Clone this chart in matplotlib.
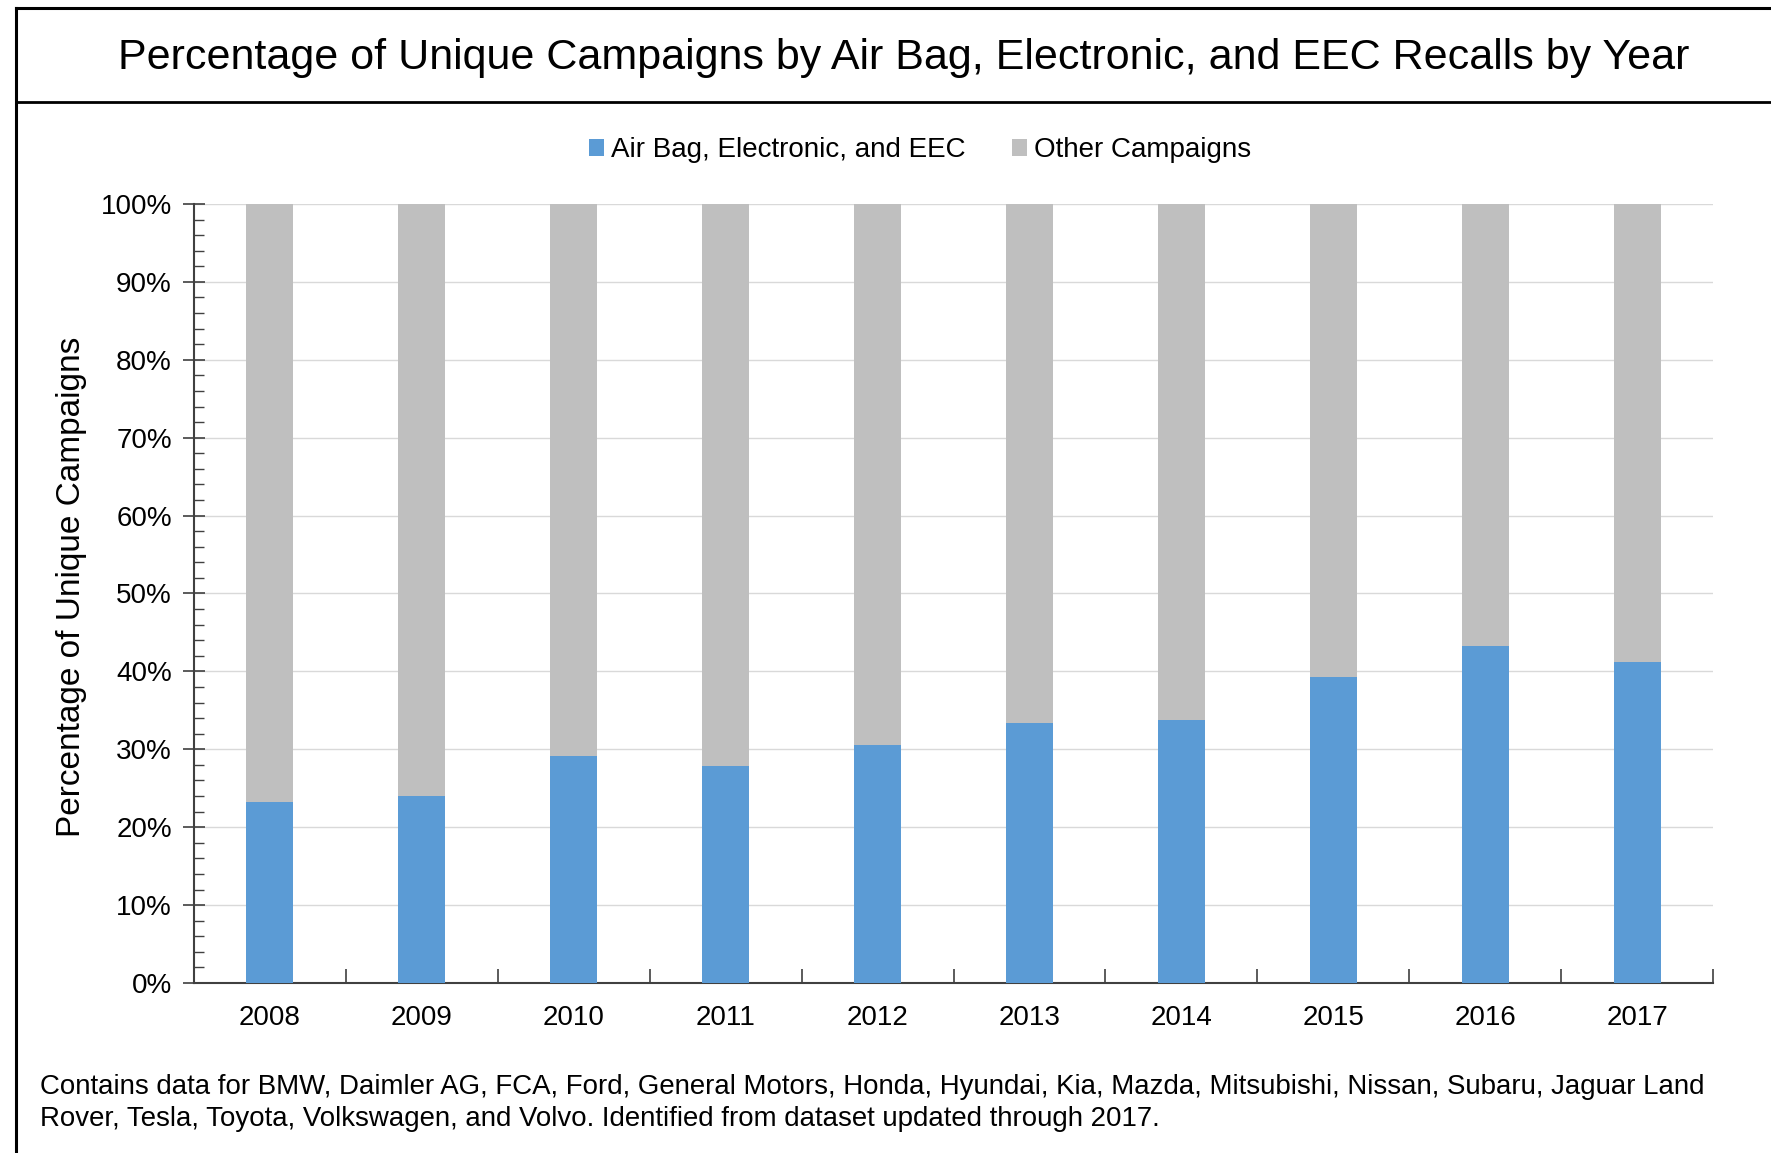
import matplotlib
matplotlib.use("Agg")
import matplotlib.pyplot as plt
from matplotlib.patches import Patch
from matplotlib.lines import Line2D
from matplotlib.ticker import MultipleLocator, PercentFormatter

years = ["2008", "2009", "2010", "2011", "2012", "2013", "2014", "2015", "2016", "2017"]
airbag_share = [0.232, 0.240, 0.291, 0.278, 0.306, 0.334, 0.338, 0.393, 0.432, 0.412]
other_share = [1 - v for v in airbag_share]

series_labels = ["Air Bag, Electronic, and EEC", "Other Campaigns"]
title_text = "Percentage of Unique Campaigns by Air Bag, Electronic, and EEC Recalls by Year"
ylabel_text = "Percentage of Unique Campaigns"
footnote_lines = [
    "Contains data for BMW, Daimler AG, FCA, Ford, General Motors, Honda, Hyundai, Kia, Mazda, Mitsubishi, Nissan, Subaru, Jaguar Land",
    "Rover, Tesla, Toyota, Volkswagen, and Volvo. Identified from dataset updated through 2017.",
]

BLUE = "#5b9bd5"
GREY = "#bfbfbf"

plt.rcParams["font.family"] = ["Liberation Sans", "DejaVu Sans"]

W, H = 1771, 1153
fig = plt.figure(figsize=(W / 100, H / 100), dpi=100)
fig.patch.set_facecolor("white")

ax = fig.add_axes([194 / W, 1 - 983 / H, (1713 - 194) / W, (983 - 204) / H])

x = list(range(len(years)))
ax.bar(x, airbag_share, width=0.31, color=BLUE, zorder=3)
ax.bar(x, other_share, width=0.31, bottom=airbag_share, color=GREY, zorder=3)

ax.set_xlim(-0.5, len(years) - 0.5)
ax.set_ylim(0, 1)

ax.yaxis.set_major_locator(MultipleLocator(0.1))
ax.yaxis.set_minor_locator(MultipleLocator(0.02))
ax.yaxis.set_major_formatter(PercentFormatter(1.0, decimals=0))
ax.grid(axis="y", which="major", color="#d9d9d9", linewidth=1.0, zorder=0)

ax.set_xticks(x)
ax.set_xticklabels(years)
ax.set_xticks([i + 0.5 for i in x], minor=True)

ax.tick_params(axis="y", which="major", direction="inout", length=16, width=1.2,
               color="#404040", labelsize=20, pad=8)
ax.tick_params(axis="y", which="minor", direction="in", length=7, width=1.0, color="#404040")
ax.tick_params(axis="x", which="major", length=0, labelsize=20, pad=16)
ax.tick_params(axis="x", which="minor", direction="in", length=10, width=1.2, color="#404040")

for side in ("top", "right"):
    ax.spines[side].set_visible(False)
for side in ("left", "bottom"):
    ax.spines[side].set_color("#404040")
    ax.spines[side].set_linewidth(1.5)

ax.set_ylabel(ylabel_text, fontsize=24, labelpad=10)
ax.yaxis.label.set_y(0.508)

# Title band with frame lines
fig.text(904 / W, 1 - 58 / H, title_text, ha="center", va="center", fontsize=31)
fig.add_artist(Line2D([16 / W, 1], [1 - 8 / H, 1 - 8 / H], color="black", linewidth=2.2))
fig.add_artist(Line2D([16 / W, 1], [1 - 102 / H, 1 - 102 / H], color="black", linewidth=2.0))
fig.add_artist(Line2D([16 / W, 16 / W], [0, 1 - 8 / H], color="black", linewidth=2.2))

handles = [Patch(facecolor=BLUE, edgecolor="none"), Patch(facecolor=GREY, edgecolor="none")]
fig.legend(handles, series_labels, loc="center", bbox_to_anchor=(920 / W, 1 - 150 / H),
           ncol=2, frameon=False, fontsize=20, handlelength=0.55, handleheight=0.55,
           handletextpad=0.25, columnspacing=1.65)

for i, line in enumerate(footnote_lines):
    fig.text(40 / W, 1 - (1087 + 32 * i) / H, line, ha="left", va="center", fontsize=19.9)

fig.savefig("out.png", dpi=100)
